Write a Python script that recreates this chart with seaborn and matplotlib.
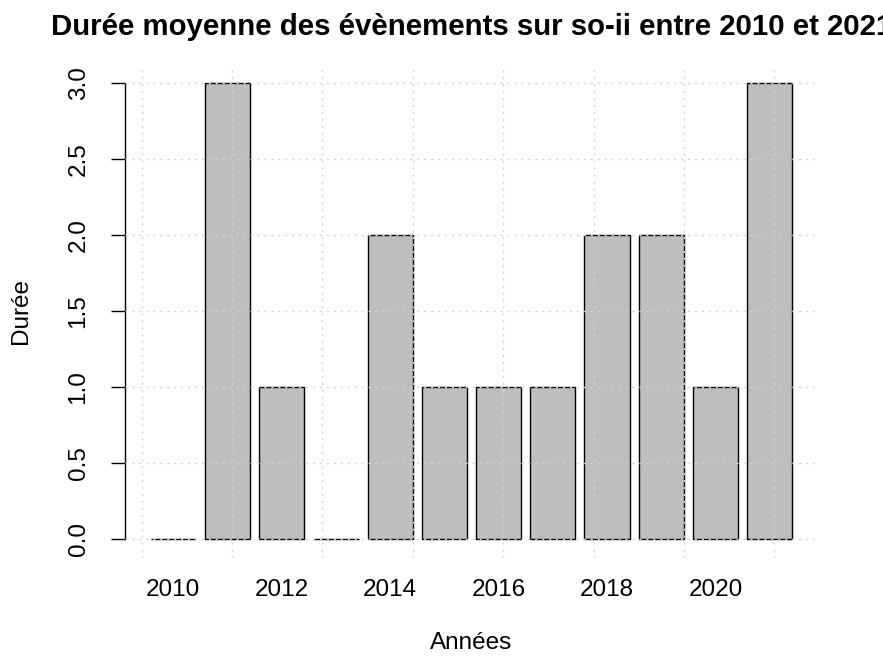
import matplotlib
matplotlib.use("Agg")
import matplotlib.pyplot as plt
import seaborn as sns
import pandas as pd
import numpy as np

years = [2010, 2011, 2012, 2013, 2014, 2015, 2016, 2017, 2018, 2019, 2020, 2021]
durations = [0, 3, 1, 0, 2, 1, 1, 1, 2, 2, 1, 3]
shown_years = [2010, 2012, 2014, 2016, 2018, 2020]
y_ticks = [0.0, 0.5, 1.0, 1.5, 2.0, 2.5, 3.0]
title = "Durée moyenne des évènements sur so-ii entre 2010 et 2021"

sns.set_style("white")
plt.rcParams['font.family'] = ['Liberation Sans', 'DejaVu Sans']
plt.rcParams['text.color'] = 'black'
plt.rcParams['axes.labelcolor'] = 'black'
plt.rcParams['xtick.color'] = 'black'
plt.rcParams['ytick.color'] = 'black'

df = pd.DataFrame({"annee": [str(y) for y in years], "duree": durations})

fig = plt.figure(figsize=(8.83, 6.57), dpi=100)
ax = fig.add_axes([0.1416, 0.1514, 0.9264 - 0.1416, 0.9009 - 0.1514])

sns.barplot(data=df, x="annee", y="duree", order=df["annee"].tolist(),
            color="#BEBEBE", saturation=1, edgecolor="black", linewidth=1.0,
            width=1 / 1.2, ax=ax, errorbar=None, zorder=2)

# R-style geometry: bar i center at 0.7 + 1.2*i in user coords
def to_idx(u):
    return (u - 0.7) / 1.2

ax.set_xlim(to_idx(-0.368), to_idx(14.968))
ax.set_ylim(-0.12, 3.12)

# grid over the bars (like R grid())
for u in range(0, 15, 2):
    ax.axvline(to_idx(u), color="#D3D3D3", lw=1.0, ls=(0, (1.5, 3.5)), zorder=5)
for yv in y_ticks:
    ax.axhline(yv, color="#D3D3D3", lw=1.0, ls=(0, (1.5, 3.5)), zorder=5)

for s in ["top", "right", "bottom"]:
    ax.spines[s].set_visible(False)
ax.spines["left"].set_bounds(0, 3)
ax.spines["left"].set_color("black")
ax.spines["left"].set_linewidth(1.0)

idx = [years.index(y) for y in shown_years]
ax.set_xticks(idx)
ax.set_xticklabels([str(y) for y in shown_years], fontsize=17.5, color="black")
ax.tick_params(axis="x", length=0, pad=15.5)

ax.set_yticks(y_ticks)
ax.set_yticklabels([f"{v:.1f}" for v in y_ticks], fontsize=17.5, rotation=90,
                   va="center", color="black")
ax.tick_params(axis="y", length=10, width=1.0, color="black", pad=15.5, left=True)

ax.set_xlabel("Années", fontsize=17.5, labelpad=22, color="black")
ax.set_ylabel("Durée", fontsize=17.5, labelpad=26, color="black")
ax.set_title(title, fontsize=21.2, fontweight="bold", pad=22, color="black")

fig.savefig("out.png", dpi=100)
